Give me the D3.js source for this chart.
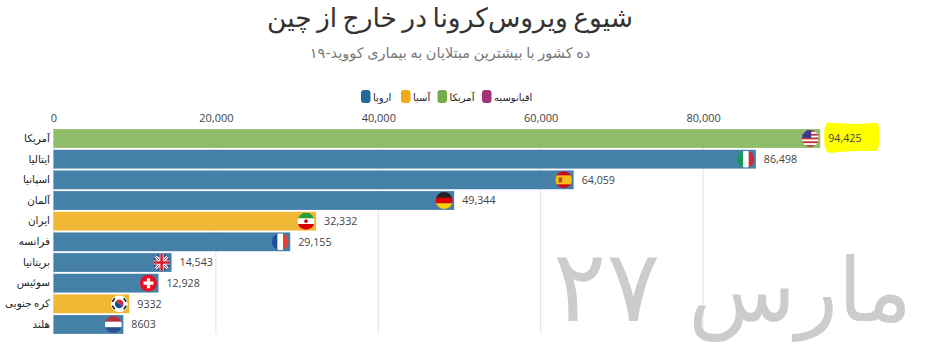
<!DOCTYPE html>
<html>
<head>
<meta charset="utf-8">
<script src="https://cdn.jsdelivr.net/npm/d3@7"></script>
<style>
  html, body { margin: 0; padding: 0; background: #fff; overflow: hidden; }
  svg { display: block; }
  .tick text { font-family: "Open Sans", sans-serif; }
</style>
</head>
<body>
<div id="chart"></div>
<script>
const countries = ["آمریکا", "ایتالیا", "اسپانیا", "آلمان", "ایران", "فرانسه", "بریتانیا", "سوئیس", "کره جنوبی", "هلند"];
const cases = [94425, 86498, 64059, 49344, 32332, 29155, 14543, 12928, 9332, 8603];
const regions = ["آمریکا", "اروپا", "اروپا", "اروپا", "آسیا", "اروپا", "اروپا", "اروپا", "آسیا", "اروپا"];
const flagCodes = ["us", "it", "es", "de", "ir", "fr", "gb", "ch", "kr", "nl"];
const legendNames = ["اروپا", "آسیا", "آمریکا", "اقیانوسیه"];
const legendColors = ["#1f6a98", "#f0ab14", "#74ad4c", "#a03376"];
const xTicks = [0, 20000, 40000, 60000, 80000];

const barColors = {"آمریکا": "#8aba64", "اروپا": "#3f7ca6", "آسیا": "#f0b62e"};
const arabicFont = "'DejaVu Sans', sans-serif";

const svg = d3.select("#chart")
  .append("svg")
    .attr("width", 939)
    .attr("height", 351);

// title and subtitle
svg.append("text")
    .attr("x", 450).attr("y", 27)
    .attr("text-anchor", "middle")
    .attr("direction", "rtl")
    .style("font-family", arabicFont)
    .style("font-size", "26.5px")
    .style("word-spacing", "-3px")
    .attr("fill", "#333")
    .text("شیوع ویروس‌کرونا در خارج از چین");

svg.append("text")
    .attr("x", 450).attr("y", 58)
    .attr("text-anchor", "middle")
    .attr("direction", "rtl")
    .style("font-family", arabicFont)
    .style("font-size", "14.5px")
    .style("word-spacing", "-1px")
    .attr("fill", "#777")
    .text("ده کشور با بیشترین مبتلایان به بیماری کووید-۱۹");

// legend, placed by hand the way it sits in the picture
const legendX = d3.scaleOrdinal().domain(legendNames).range([361, 401, 437.5, 482]);
const legend = svg.append("g").selectAll("g")
  .data(legendNames)
  .enter().append("g")
    .attr("transform", d => "translate(" + legendX(d) + ",90)");
legend.append("rect")
    .attr("width", 9.5).attr("height", 13).attr("rx", 3)
    .attr("fill", (d, i) => legendColors[i]);
legend.append("text")
    .attr("x", 12).attr("y", 11)
    .style("font-family", arabicFont)
    .style("font-size", "10px")
    .attr("fill", "#222")
    .text(d => d);

const x = d3.scaleLinear().domain([0, 100000]).range([53.5, 865.5]);
const y = d3.scaleBand().domain(countries).range([128.5, 334.5]).padding(0.09).paddingOuter(0.03);

// grid
svg.append("g").selectAll("line")
  .data(xTicks)
  .enter().append("line")
    .attr("x1", d => x(d)).attr("x2", d => x(d))
    .attr("y1", 128).attr("y2", 334)
    .attr("stroke", "#e3e3e3");

// axes
const xAxis = svg.append("g")
    .attr("transform", "translate(0,122)")
    .call(d3.axisTop(x).tickValues(xTicks).tickSize(0).tickPadding(0).tickFormat(d3.format(",")));
xAxis.select(".domain").remove();
xAxis.selectAll("text").style("font-size", "11px").attr("fill", "#444");

const yAxis = svg.append("g")
    .attr("transform", "translate(50,0)")
    .call(d3.axisLeft(y).tickSize(0).tickPadding(0));
yAxis.select(".domain").remove();
yAxis.selectAll("text")
    .style("font-family", arabicFont)
    .style("font-size", "10.4px")
    .style("word-spacing", "-1px")
    .attr("fill", "#222");

// highlight scribble behind the first value
svg.append("path")
    .attr("d", "M828 122.5C845 123.5 862 125 875 122.5C880 123 879 128 879 135C879.5 143 879.5 149 876 151C860 151 842 151 832 153C827 153 824.5 150 824.5 143C824 135 823.5 124 828 122.5Z")
    .attr("fill", "#ffff00");

// bars
const data = countries.map((c, i) => ({country: c, value: cases[i], region: regions[i], flag: flagCodes[i]}));

svg.append("g").selectAll("rect")
  .data(data)
  .enter().append("rect")
    .attr("x", x(0))
    .attr("y", d => y(d.country))
    .attr("width", d => x(d.value) - x(0))
    .attr("height", y.bandwidth())
    .attr("fill", d => barColors[d.region])
    .attr("fill-opacity", 0.97);

// value labels
svg.append("g").selectAll("text")
  .data(data)
  .enter().append("text")
    .attr("x", d => x(d.value) + 8)
    .attr("y", d => y(d.country) + y.bandwidth() / 2)
    .attr("dy", "0.35em")
    .style("font-family", "'Open Sans', sans-serif")
    .style("font-size", "10.7px")
    .attr("fill", "#444")
    .text(d => d.value < 10000 ? String(d.value) : d3.format(",")(d.value));

// flags, each one drawn in a 18x18 box and clipped to a circle
const R = 8.5;
const stripesH = (g, cols) => cols.forEach((c, i) => g.append("rect")
    .attr("x", -R).attr("y", -R + i * 2 * R / cols.length)
    .attr("width", 2 * R).attr("height", 2 * R / cols.length + 0.2).attr("fill", c));
const stripesV = (g, cols) => cols.forEach((c, i) => g.append("rect")
    .attr("y", -R).attr("x", -R + i * 2 * R / cols.length)
    .attr("height", 2 * R).attr("width", 2 * R / cols.length + 0.2).attr("fill", c));

const flagDraw = {
  us: g => {
    stripesH(g, ["#c8313e", "#fff", "#c8313e", "#fff", "#c8313e", "#fff", "#c8313e", "#fff", "#c8313e"]);
    g.append("rect").attr("x", -R).attr("y", -R).attr("width", 9.5).attr("height", 8).attr("fill", "#3c3b8e");
  },
  it: g => stripesV(g, ["#159a55", "#fff", "#cd2b37"]),
  es: g => {
    g.append("rect").attr("x", -R).attr("y", -R).attr("width", 2 * R).attr("height", 2 * R).attr("fill", "#c60b1e");
    g.append("rect").attr("x", -R).attr("y", -4.5).attr("width", 2 * R).attr("height", 9).attr("fill", "#f6bd16");
    g.append("rect").attr("x", -5).attr("y", -2.5).attr("width", 3.5).attr("height", 5).attr("fill", "#a8502a");
  },
  de: g => stripesH(g, ["#222", "#dd0000", "#ffce00"]),
  ir: g => {
    stripesH(g, ["#239f40", "#fff", "#da0000"]);
    g.append("circle").attr("r", 1.8).attr("fill", "#da0000");
  },
  fr: g => stripesV(g, ["#1f4fa3", "#fff", "#e0433b"]),
  gb: g => {
    g.append("rect").attr("x", -R).attr("y", -R).attr("width", 2 * R).attr("height", 2 * R).attr("fill", "#2b3f87");
    [[-R, -R, R, R], [-R, R, R, -R]].forEach(p => {
      g.append("line").attr("x1", p[0]).attr("y1", p[1]).attr("x2", p[2]).attr("y2", p[3]).attr("stroke", "#fff").attr("stroke-width", 3);
      g.append("line").attr("x1", p[0]).attr("y1", p[1]).attr("x2", p[2]).attr("y2", p[3]).attr("stroke", "#cf1b2b").attr("stroke-width", 1);
    });
    g.append("path").attr("d", "M-8.5 0H8.5M0 -8.5V8.5").attr("stroke", "#fff").attr("stroke-width", 4);
    g.append("path").attr("d", "M-8.5 0H8.5M0 -8.5V8.5").attr("stroke", "#cf1b2b").attr("stroke-width", 2.5);
  },
  ch: g => {
    g.append("rect").attr("x", -R).attr("y", -R).attr("width", 2 * R).attr("height", 2 * R).attr("fill", "#e8101f");
    g.append("path").attr("d", "M-5 0H5M0 -5V5").attr("stroke", "#fff").attr("stroke-width", 3.2);
  },
  kr: g => {
    g.append("rect").attr("x", -R).attr("y", -R).attr("width", 2 * R).attr("height", 2 * R).attr("fill", "#fff");
    g.append("path").attr("d", "M-3.6 -2.4A4.3 4.3 0 0 1 3.6 2.4Z").attr("fill", "#cd2e3a");
    g.append("path").attr("d", "M-3.6 -2.4A4.3 4.3 0 0 0 3.6 2.4Z").attr("fill", "#0f4a94");
    g.append("path").attr("d", "M-7 -2L-4.5 -5.5M7 2L4.5 5.5M-7 2L-4.5 5.5M7 -2L4.5 -5.5")
      .attr("stroke", "#222").attr("stroke-width", 1.6);
  },
  nl: g => stripesH(g, ["#b5313f", "#fff", "#2c4f92"])
};

svg.append("defs").append("clipPath").attr("id", "flagClip")
  .append("circle").attr("r", R);

const flags = svg.append("g").selectAll("g")
  .data(data)
  .enter().append("g")
    .attr("transform", d => "translate(" + (x(d.value) - 10) + "," + (y(d.country) + y.bandwidth() / 2) + ")");
flags.append("g")
    .attr("clip-path", "url(#flagClip)")
    .each(function(d) { flagDraw[d.flag](d3.select(this)); });

// date stamp, the digits run a bit larger than the word
const stamp = svg.append("text")
    .attr("x", 912).attr("y", 321)
    .attr("text-anchor", "start")
    .attr("direction", "rtl")
    .style("font-family", arabicFont)
    .style("font-size", "88px")
    .attr("fill", "#cccccc");
stamp.append("tspan").text("مارس ");
stamp.append("tspan").style("font-size", "100px").text("۲۷");
</script>
</body>
</html>
